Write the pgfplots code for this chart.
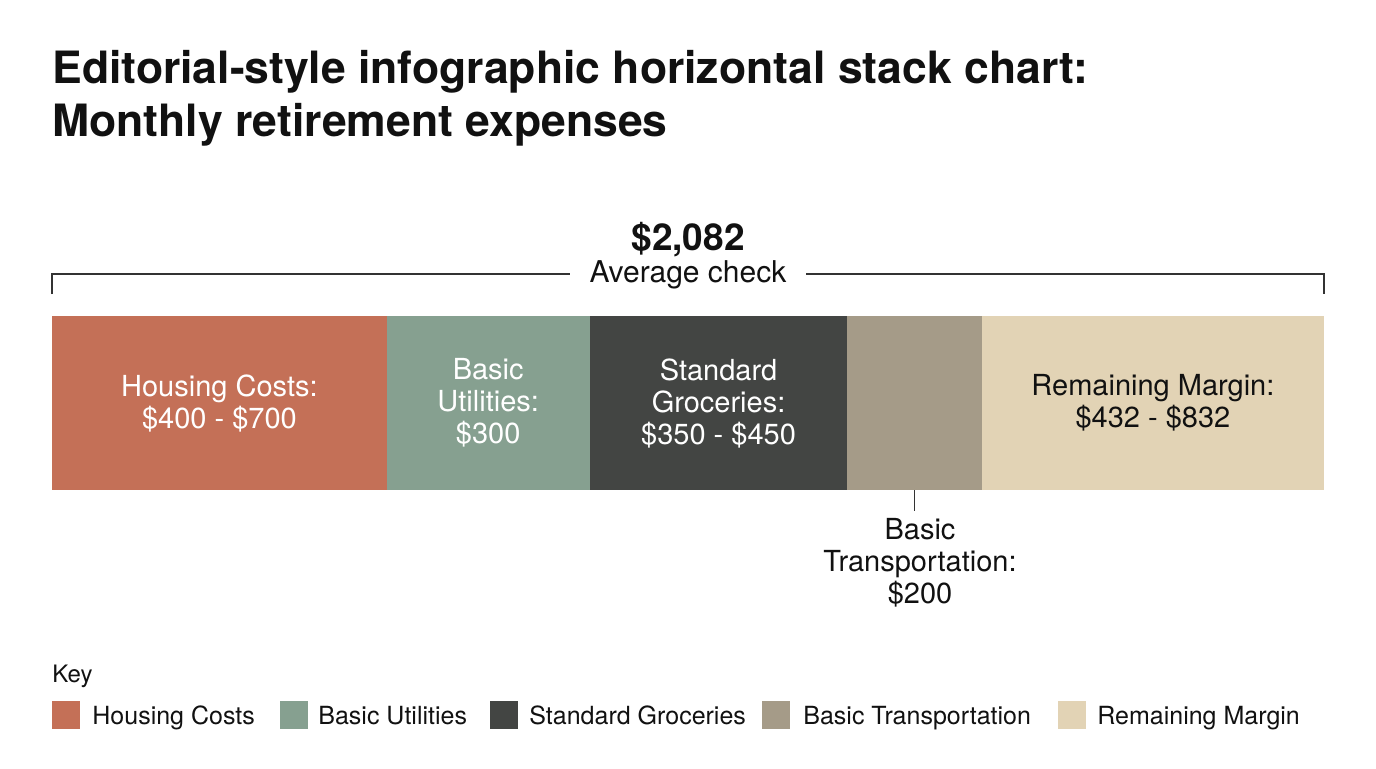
\documentclass[border=0pt]{standalone}
\usepackage{pgfplots}
\pgfplotsset{compat=1.18}
\usepackage{fontspec}
\setmainfont{TeX Gyre Heros}
\definecolor{housing}{HTML}{C47057}
\definecolor{util}{HTML}{86A090}
\definecolor{groc}{HTML}{434543}
\definecolor{trans}{HTML}{A59B88}
\definecolor{remain}{HTML}{E2D3B5}
\definecolor{ink}{HTML}{111111}
\definecolor{rule}{HTML}{333333}
\tikzset{barlab/.style={align=center,inner sep=0,font=\fontsize{14.5}{16}\selectfont},
  keylab/.style={anchor=base west,inner sep=0,text=ink,font=\fontsize{12.5}{15}\selectfont}}
\begin{document}
\begin{tikzpicture}
\begin{scope}[x=0.5pt,y=0.5pt]
\path[use as bounding box,fill=white] (0,0) rectangle (1376,768);
% title
\node[anchor=base west,inner sep=0,text=ink,font=\fontsize{22.25}{26}\selectfont\bfseries] at (52,684) {Editorial-style infographic horizontal stack chart:};
\node[anchor=base west,inner sep=0,text=ink,font=\fontsize{22.25}{26}\selectfont\bfseries] at (52,632) {Monthly retirement expenses};
% total
\node[anchor=base,inner sep=0,text=ink,font=\fontsize{18.5}{22}\selectfont\bfseries] at (688,518) {\$2,082};
\node[anchor=base,inner sep=0,text=ink,font=\fontsize{15}{18}\selectfont] at (688,486) {Average check};
\draw[rule,line width=0.7pt] (52,474) -- (52,494) -- (570,494);
\draw[rule,line width=0.7pt] (806,494) -- (1324,494) -- (1324,474);
\node[anchor=north,align=center,inner sep=0,text=ink,font=\fontsize{14.5}{16}\selectfont] at (920,250) {Basic\\Transportation:\\\$200};
% key
\node[anchor=base west,inner sep=0,text=ink,font=\fontsize{12}{14}\selectfont] at (52,86) {Key};
\fill[housing] (52,39) rectangle (80,67);
\node[keylab] at (92,44) {Housing Costs};
\fill[util] (280,39) rectangle (308,67);
\node[keylab] at (318,44) {Basic Utilities};
\fill[groc] (490,39) rectangle (518,67);
\node[keylab] at (529,44) {Standard Groceries};
\fill[trans] (762,39) rectangle (790,67);
\node[keylab] at (803,44) {Basic Transportation};
\fill[remain] (1058,39) rectangle (1086,67);
\node[keylab] at (1097,44) {Remaining Margin};
\end{scope}
\begin{axis}[at={(26pt,139pt)},anchor=south west,
  width=636pt,height=87pt,scale only axis,
  xmin=0,xmax=2082,ymin=0,ymax=1,hide axis,clip=false,
  xbar stacked,bar width=1]
\addplot[fill=housing,draw=none] coordinates {(548,0.5)};
\addplot[fill=util,draw=none] coordinates {(332,0.5)};
\addplot[fill=groc,draw=none] coordinates {(421,0.5)};
\addplot[fill=trans,draw=none] coordinates {(221,0.5)};
\addplot[fill=remain,draw=none] coordinates {(560,0.5)};
\coordinate (lh) at (axis cs:274,0.5);
\coordinate (lu) at (axis cs:714,0.5);
\coordinate (lg) at (axis cs:1091,0.5);
\coordinate (lr) at (axis cs:1802,0.5);
\coordinate (ct) at (axis cs:1411.5,0);
\coordinate (cb) at (axis cs:1411.5,-0.12);
\end{axis}
\node[barlab,text=white] at (lh) {Housing Costs:\\\$400 - \$700};
\node[barlab,text=white] at (lu) {Basic\\Utilities:\\\$300};
\node[barlab,text=white] at (lg) {Standard\\Groceries:\\\$350 - \$450};
\node[barlab,text=ink] at (lr) {Remaining Margin:\\\$432 - \$832};
\draw[rule,line width=0.7pt] (ct) -- (cb);
\end{tikzpicture}
\end{document}
